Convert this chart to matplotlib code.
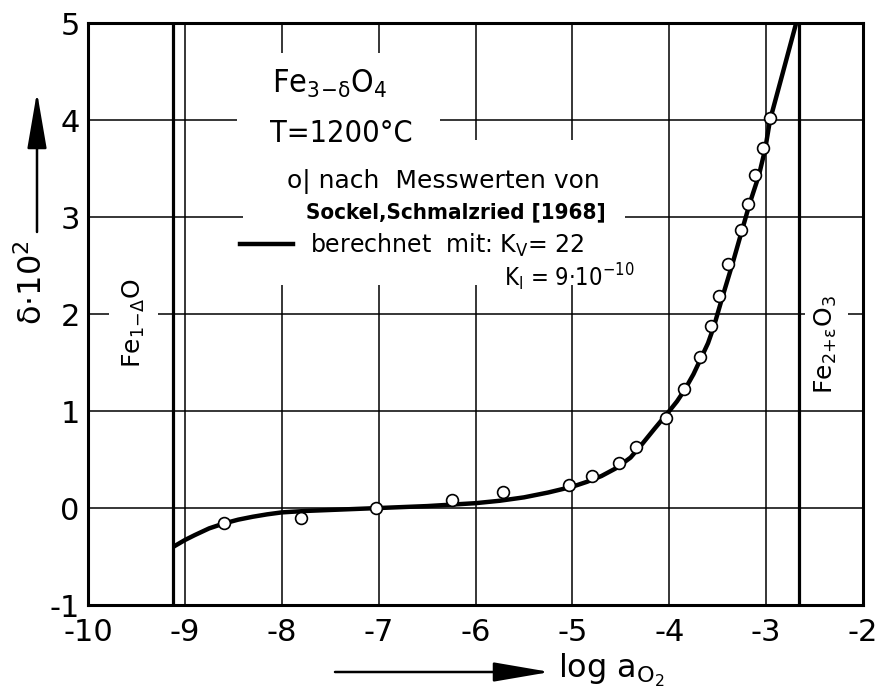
import numpy as np
import matplotlib
matplotlib.use("Agg")
import matplotlib.pyplot as plt
from matplotlib.lines import Line2D
from matplotlib.patches import Rectangle

plt.rcParams["font.family"] = ["DejaVu Sans"]
plt.rcParams["mathtext.fontset"] = "dejavusans"
plt.rcParams["mathtext.default"] = "regular"
plt.rcParams["axes.unicode_minus"] = False

# measured points (Sockel, Schmalzried 1968)
log_a = [-8.60, -7.80, -7.03, -6.24, -5.72, -5.03, -4.80, -4.52, -4.34, -4.03,
         -3.85, -3.68, -3.57, -3.49, -3.39, -3.26, -3.19, -3.11, -3.03, -2.96]
delta = [-0.15, -0.10, 0.00, 0.08, 0.17, 0.24, 0.33, 0.46, 0.63, 0.93,
         1.23, 1.56, 1.88, 2.19, 2.52, 2.87, 3.13, 3.43, 3.71, 4.02]

# calculated curve (K_V = 22, K_I = 9e-10)
calc_x = [-9.12, -9.0, -8.9, -8.75, -8.6, -8.45, -8.3, -8.15, -8.0, -7.75, -7.5,
          -7.25, -7.0, -6.75, -6.5, -6.25, -6.0, -5.75, -5.5, -5.25, -5.0,
          -4.85, -4.7, -4.55, -4.4, -4.28, -4.15, -4.0, -3.92, -3.84, -3.75,
          -3.67, -3.6, -3.54, -3.45, -3.35, -3.25, -3.17, -3.075, -3.01,
          -2.96, -2.83, -2.69]
calc_y = [-0.40, -0.33, -0.28, -0.21, -0.16, -0.12, -0.09, -0.065, -0.045, -0.03,
          -0.02, -0.01, 0.0, 0.01, 0.02, 0.035, 0.05, 0.075, 0.11, 0.16, 0.22,
          0.27, 0.33, 0.41, 0.52, 0.66, 0.82, 1.0, 1.10, 1.22, 1.38,
          1.55, 1.70, 1.87, 2.18, 2.51, 2.86, 3.14, 3.43, 3.70,
          4.0, 4.48, 5.0]

# phase boundaries Fe1-dO / Fe3-dO4 / Fe2O3
phase_bounds = [-9.12, -2.66]

xticks = [-10, -9, -8, -7, -6, -5, -4, -3, -2]
yticks = [-1, 0, 1, 2, 3, 4, 5]

fig = plt.figure(figsize=(8.81, 6.98), dpi=100)
ax = fig.add_axes([0.0999, 0.1332, 0.8797, 0.8338])

ax.set_xlim(-10, -2)
ax.set_ylim(-1, 5)
ax.set_xticks(xticks)
ax.set_yticks(yticks)
ax.grid(True, color="black", lw=1.1)
ax.tick_params(length=0, labelsize=22)
ax.tick_params(axis="x", pad=9)
ax.tick_params(axis="y", pad=6)
for s in ax.spines.values():
    s.set_linewidth(2.2)

for xb in phase_bounds:
    ax.axvline(xb, color="black", lw=2.3, zorder=2)

ax.plot(calc_x, calc_y, color="black", lw=3.2, solid_capstyle="butt",
        solid_joinstyle="round", zorder=3)
ax.plot(log_a, delta, "o", ms=8.5, mfc="white", mec="black", mew=1.2, zorder=4)

# white areas behind the annotations (grid is broken there)
ax.add_patch(Rectangle((0.192, 0.765), 0.262, 0.183, transform=ax.transAxes,
                       fc="white", ec="none", zorder=1.8))
ax.add_patch(Rectangle((0.200, 0.550), 0.493, 0.249, transform=ax.transAxes,
                       fc="white", ec="none", zorder=1.8))

cond = dict(fontstretch="condensed", zorder=5, va="baseline")
ax.text(-8.105, 4.28, r"Fe$_{3\!-\!\delta}$O$_4$", fontsize=23, **cond)
ax.text(-8.125, 3.77, "T=1200°C", fontsize=22, **cond)
ax.text(-7.95, 3.30, "o| nach  Messwerten von", fontsize=18, zorder=5, va="baseline")
ax.text(-7.755, 2.99, "Sockel,Schmalzried [1968]", fontsize=16, fontweight="bold",
        **cond)
ax.text(-5.705, 2.28, r"K$_I$ = 9$\cdot$10$^{-10}$", fontsize=17, **cond)

leg = ax.legend(handles=[Line2D([], [], color="black", lw=3.2)],
                labels=[r"berechnet  mit: K$_V$= 22"], loc="center left",
                bbox_to_anchor=(0.196, 0.618), frameon=False, fontsize=17,
                handlelength=2.25, handletextpad=0.7, borderpad=0, borderaxespad=0)
leg.set_zorder(5)

ax.text(-9.53, 1.91, r"Fe$_{1\!-\!\Delta}$O", fontsize=18, rotation=90,
        ha="center", va="center", zorder=5,
        bbox=dict(fc="white", ec="none", pad=8))
ax.text(-2.38, 1.68, r"Fe$_{2\!+\!\varepsilon}$O$_3$", fontsize=18, rotation=90,
        ha="center", va="center", zorder=5,
        bbox=dict(fc="white", ec="none", pad=6))

# axis labels with arrows
arrow = dict(arrowstyle="-|>,head_length=3.5,head_width=0.6", color="black",
             lw=1.8, mutation_scale=10, shrinkA=0, shrinkB=0)
fig.text(33 / 881, 1 - 283 / 698, "δ·10$^2$", fontsize=23, rotation=90,
         ha="center", va="center")
ax.annotate("", xy=(37 / 881, 1 - 92 / 698), xytext=(37 / 881, 1 - 232 / 698),
            xycoords="figure fraction", textcoords="figure fraction",
            arrowprops=arrow, annotation_clip=False)
ax.annotate("", xy=(550 / 881, 1 - 672 / 698), xytext=(335 / 881, 1 - 672 / 698),
            xycoords="figure fraction", textcoords="figure fraction",
            arrowprops=arrow, annotation_clip=False)
fig.text(558 / 881, 1 - 678 / 698, r"log a$_{O_2}$", fontsize=23,
         ha="left", va="baseline")

fig.savefig("out.png", dpi=100)
